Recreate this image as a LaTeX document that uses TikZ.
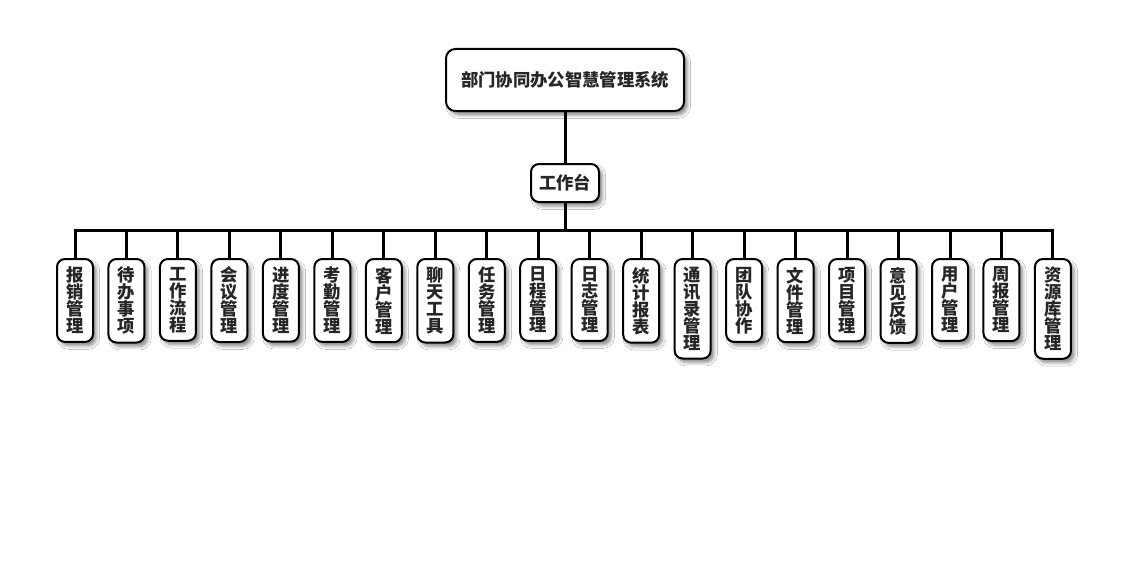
\documentclass[tikz,border=0pt]{standalone}
\usepackage{fontspec}
\newfontfamily\cjk{Noto Sans CJK SC}
\usetikzlibrary{shadows.blur}

\begin{document}
\begin{tikzpicture}[x=0.75pt, y=-0.75pt,
    box/.style={draw, line width=1.5pt, fill=white, rounded corners=6pt,
        text=black!85,
        blur shadow={shadow xshift=2.5pt, shadow yshift=-3pt,
            shadow blur radius=2.5pt, shadow opacity=45}},
    rootbox/.style={box, rounded corners=7pt, minimum width=178.5pt,
        minimum height=46.5pt, font=\cjk\bfseries\fontsize{13pt}{15pt}\selectfont},
    deskbox/.style={box, minimum width=51pt, minimum height=28.5pt,
        font=\cjk\bfseries\fontsize{13pt}{15pt}\selectfont},
    leafbox/.style={box, anchor=north, minimum width=27pt, inner xsep=2pt,
        inner ysep=6pt, align=center,
        font=\cjk\bfseries\fontsize{13pt}{12.75pt}\selectfont},
    link/.style={line width=2.25pt}]
    % Canvas
    \fill[white] (0,0) rectangle (1130,560);
    \useasboundingbox (0,0) rectangle (1130,560);

    % Top levels
    \node[rootbox] (root) at (565,80) {部门协同办公智慧管理系统};
    \node[deskbox] (desk) at (565,183) {工作台};
    \draw[link] (root.south) -- (desk.north);

    % Modules
    \foreach \lbl [count=\i from 0] in {报\\销\\管\\理, 待\\办\\事\\项,
        工\\作\\流\\程, 会\\议\\管\\理, 进\\度\\管\\理, 考\\勤\\管\\理,
        客\\户\\管\\理, 聊\\天\\工\\具, 任\\务\\管\\理, 日\\程\\管\\理,
        日\\志\\管\\理, 统\\计\\报\\表, 通\\讯\\录\\管\\理, 团\\队\\协\\作,
        文\\件\\管\\理, 项\\目\\管\\理, 意\\见\\反\\馈, 用\\户\\管\\理,
        周\\报\\管\\理, 资\\源\\库\\管\\理} {
        \node[leafbox] (m\i) at ({75+51.47*\i},258) {\lbl};
        \draw[link] (desk.south) -- ++(0,27) -| (m\i.north);
    }
\end{tikzpicture}
\end{document}
